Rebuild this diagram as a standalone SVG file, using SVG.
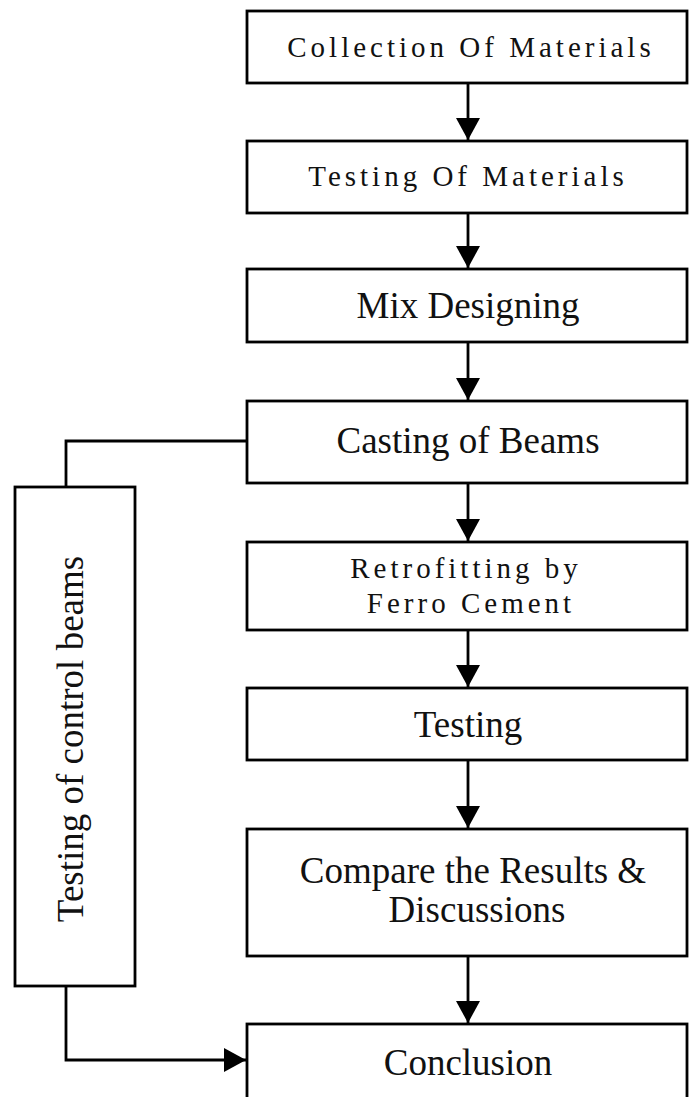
<svg xmlns="http://www.w3.org/2000/svg" width="689" height="1097" viewBox="0 0 689 1097">
<style>
.box{fill:#fff;stroke:#000;stroke-width:2.8}
.ln{fill:none;stroke:#000;stroke-width:2.8}
.t{font-family:"Liberation Serif","Times New Roman",serif;fill:#111;text-anchor:middle}
.big{font-size:37px}
.sp{font-size:29px;letter-spacing:4px}
</style>
<defs>
<marker id="ah" markerUnits="userSpaceOnUse" markerWidth="24" markerHeight="24" refX="22" refY="12" orient="auto">
<path d="M0,0 L22,12 L0,24 z" fill="#000"/>
</marker>
</defs>
<rect width="689" height="1097" fill="#fff"/>
<g id="connectors">
<line class="ln" x1="468" y1="83" x2="468" y2="140" marker-end="url(#ah)"/>
<line class="ln" x1="468" y1="213" x2="468" y2="268" marker-end="url(#ah)"/>
<line class="ln" x1="468" y1="342" x2="468" y2="400" marker-end="url(#ah)"/>
<line class="ln" x1="468" y1="483" x2="468" y2="541" marker-end="url(#ah)"/>
<line class="ln" x1="468" y1="630" x2="468" y2="687" marker-end="url(#ah)"/>
<line class="ln" x1="468" y1="760" x2="468" y2="828" marker-end="url(#ah)"/>
<line class="ln" x1="468" y1="956" x2="468" y2="1023" marker-end="url(#ah)"/>
<polyline class="ln" points="247,441 66,441 66,487"/>
<polyline class="ln" points="66,986 66,1060 246,1060" marker-end="url(#ah)"/>
</g>
<g id="n1"><rect class="box" x="247" y="11" width="440" height="72"/><text class="t sp" x="471" y="57">Collection Of Materials</text></g>
<g id="n2"><rect class="box" x="247" y="141" width="440" height="72"/><text class="t sp" x="468" y="186">Testing Of Materials</text></g>
<g id="n3"><rect class="box" x="247" y="269" width="440" height="73"/><text class="t big" x="468" y="318">Mix Designing</text></g>
<g id="n4"><rect class="box" x="247" y="401" width="440" height="82"/><text class="t big" x="468" y="453">Casting of Beams</text></g>
<g id="n5"><rect class="box" x="247" y="542" width="440" height="88"/><text class="t sp" x="466" y="578">Retrofitting by</text><text class="t sp" x="471" y="613">Ferro Cement</text></g>
<g id="n6"><rect class="box" x="247" y="688" width="440" height="72"/><text class="t big" x="468" y="737">Testing</text></g>
<g id="n7"><rect class="box" x="247" y="829" width="440" height="127"/><text class="t big" x="473" y="883">Compare the Results &amp;</text><text class="t big" x="477" y="922">Discussions</text></g>
<g id="n8"><rect class="box" x="247" y="1024" width="440" height="90"/><text class="t big" x="468" y="1075">Conclusion</text></g>
<g id="n9"><rect class="box" x="15" y="487" width="120" height="499"/><text class="t big" transform="translate(83,739) rotate(-90)">Testing of control beams</text></g>
</svg>
